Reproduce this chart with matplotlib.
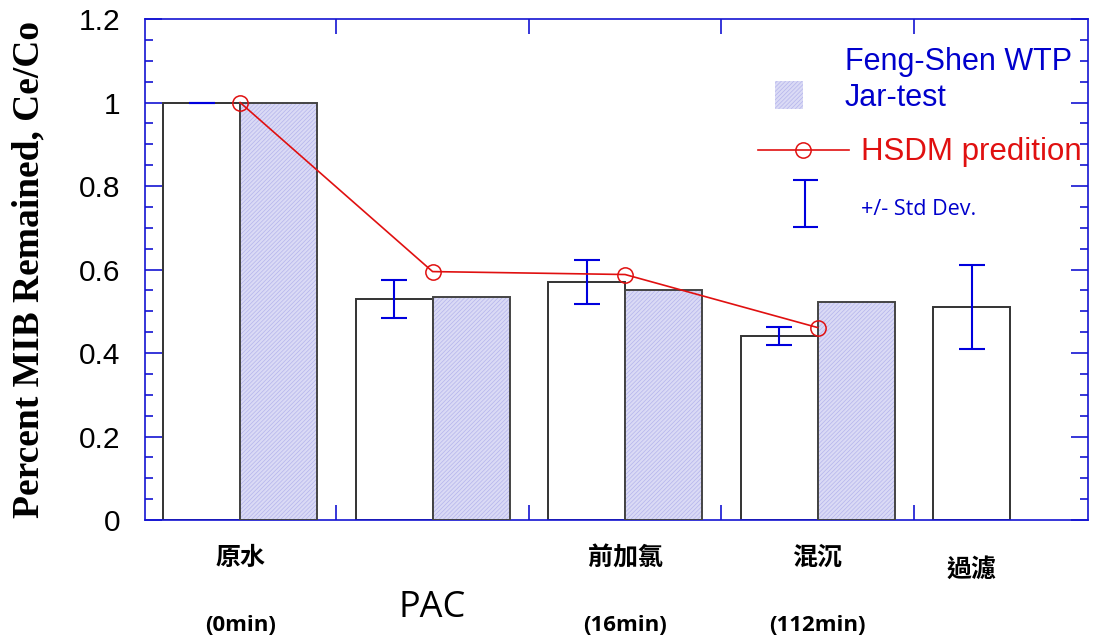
import matplotlib
matplotlib.use("Agg")
import matplotlib.pyplot as plt
from matplotlib.ticker import MultipleLocator, FormatStrFormatter
import numpy as np

# ---- data ----
stages = ["原水", "", "前加氯", "混沉", "過濾"]
times = ["(0min)", "PAC", "(16min)", "(112min)", ""]
wtp = [1.0, 0.53, 0.57, 0.44, 0.51]          # Feng-Shen WTP (white bars)
wtp_sd = [0.0, 0.045, 0.052, 0.022, 0.10]
jar = [1.0, 0.533, 0.55, 0.521]              # Jar-test (hatched bars)
hsdm = [1.0, 0.595, 0.588, 0.461]            # HSDM prediction

blue = "#1414d2"
red = "#e01010"
hatch_face = "#dadaf5"
hatch_line = "#b4b4ec"
plt.rcParams["hatch.linewidth"] = 0.5

fig = plt.figure(figsize=(11.01, 6.40), dpi=100)
ax = fig.add_axes([0.1317, 0.1875, 0.8565, 0.7828])

pos = np.arange(1, len(wtp) + 1)
w = 0.4

# white bars + error bars
ax.bar(pos - w / 2, wtp, width=w, color="white", edgecolor="#333333", linewidth=1.4, zorder=2)
ax.errorbar(pos - w / 2, wtp, yerr=wtp_sd, fmt="none", ecolor="#0000dd",
            elinewidth=1.5, capsize=9.5, capthick=1.5, zorder=4)

# hatched jar-test bars
jpos = pos[:len(jar)] + w / 2
ax.bar(jpos, jar, width=w, color=hatch_face, edgecolor=hatch_line, hatch="////////",
       linewidth=0, zorder=2)
ax.bar(jpos, jar, width=w, fill=False, edgecolor="#444444", linewidth=1.4, zorder=3)

# HSDM line
ax.plot(pos[:len(hsdm)], hsdm, color=red, lw=1.2, marker="o", ms=11,
        mfc="none", mec=red, mew=1.1, zorder=5)

ax.set_xlim(0.506, 5.405)
ax.set_ylim(0, 1.2)
ax.yaxis.set_major_locator(MultipleLocator(0.2))
ax.yaxis.set_minor_locator(MultipleLocator(0.05))
ax.yaxis.set_major_formatter(FormatStrFormatter("%g"))
ax.set_xticks(pos[:-1] + 0.5)
ax.set_xticklabels([])

for s in ax.spines.values():
    s.set_color(blue)
    s.set_linewidth(1.2)
ax.tick_params(axis="y", which="major", direction="in", length=12, width=1.2,
               color=blue, left=True, right=True, labelsize=21.5, pad=18)
ax.tick_params(axis="y", which="minor", direction="in", length=6, width=1.2,
               color=blue, left=True, right=True)
ax.tick_params(axis="x", which="major", direction="in", length=11, width=1.2,
               color=blue, top=True, bottom=True)
for t in ax.get_yticklabels():
    t.set_fontfamily("Liberation Sans")

ax.set_ylabel("Percent MIB Remained, Ce/Co", fontfamily="Liberation Serif",
              fontweight="bold", fontsize=27)
ax.yaxis.set_label_coords(-0.104, 0.5)

# category labels under the axis
trans = ax.get_xaxis_transform()
for i, (st, tm) in enumerate(zip(stages, times)):
    if st:
        x = pos[i] if i < len(jar) else pos[i] - w / 2
        y = -0.076 if i < 4 else -0.1
        ax.text(x, y, st, transform=trans, ha="center", va="center", fontsize=18,
                fontweight="bold", fontfamily="Noto Sans CJK TC")
    if tm == "PAC":
        ax.text(pos[i], -0.176, tm, transform=trans, ha="center", va="center",
                fontsize=26, fontfamily="Open Sans")
    elif tm:
        ax.text(pos[i], -0.21, tm, transform=trans, ha="center", va="center",
                fontsize=16, fontweight="bold", fontfamily="Open Sans")

# legend drawn by hand
tA = ax.transAxes
ax.text(0.742, 0.914, "Feng-Shen WTP", transform=tA, color="#0000cc", fontsize=22,
        fontfamily="Liberation Sans", va="center", ha="left")
ax.text(0.742, 0.842, "Jar-test", transform=tA, color="#0000cc", fontsize=22,
        fontfamily="Liberation Sans", va="center", ha="left")
sq = plt.Rectangle((0.668, 0.82), 0.03, 0.056, transform=tA, facecolor=hatch_face,
                   edgecolor=hatch_line, hatch="////////", linewidth=0)
ax.add_patch(sq)
ax.plot([0.650, 0.747], [0.739, 0.739], transform=tA, color=red, lw=1.2)
ax.plot([0.698], [0.739], transform=tA, marker="o", ms=11, mfc="none", mec=red, mew=1.1)
ax.text(0.759, 0.735, "HSDM predition", transform=tA, color=red, fontsize=22.5,
        fontfamily="Liberation Sans", va="center", ha="left")
ax.errorbar([0.700], [0.632], yerr=[0.047], transform=tA, fmt="none", ecolor="#0000dd",
            elinewidth=1.5, capsize=9, capthick=1.5)
ax.text(0.759, 0.62, "+/- Std Dev.", transform=tA, color="#0000cc", fontsize=15.5,
        fontfamily="Open Sans", va="center", ha="left")

fig.savefig("out.png", dpi=100)
